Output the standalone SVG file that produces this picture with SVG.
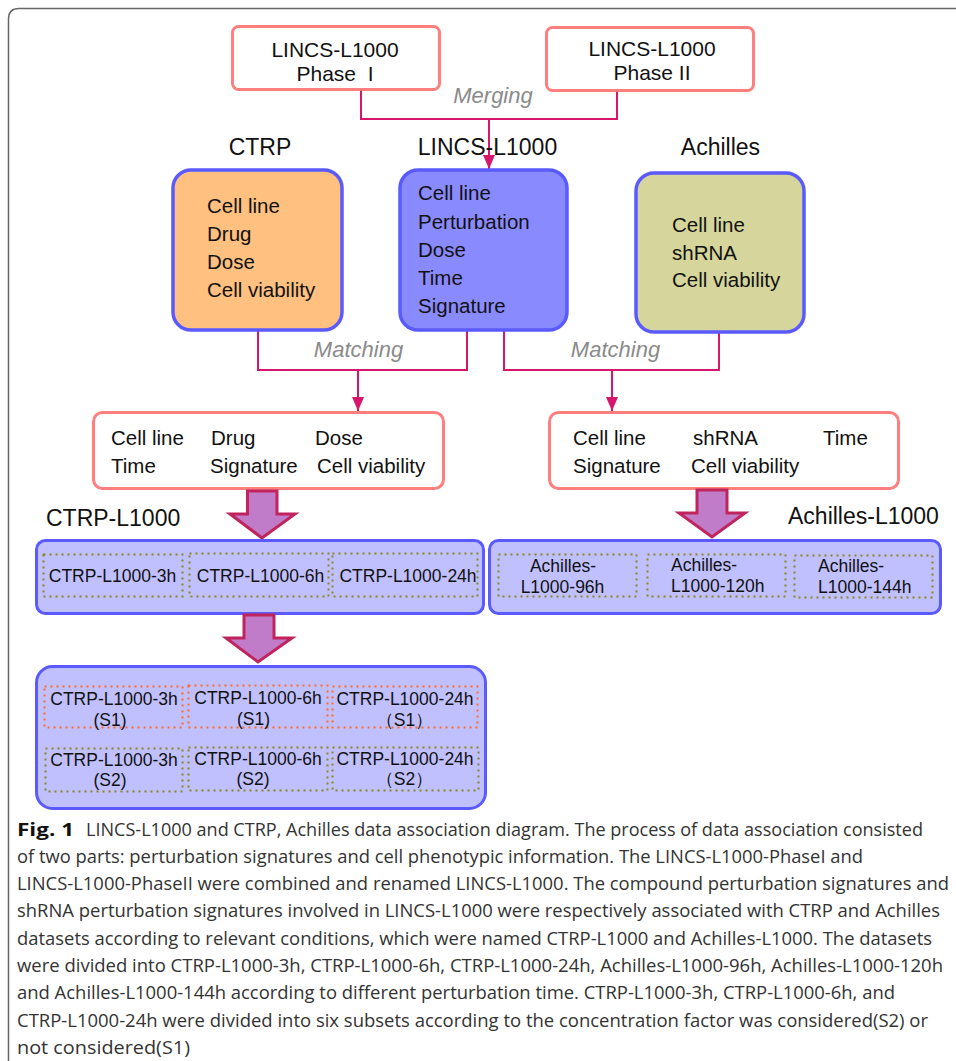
<svg xmlns="http://www.w3.org/2000/svg" width="956" height="1061" viewBox="0 0 956 1061">
<defs>
<marker id="ah" viewBox="0 0 14 12" refX="14" refY="6" markerWidth="14" markerHeight="12" markerUnits="userSpaceOnUse" orient="auto">
<path d="M0,0 L14,6 L0,12 Z" fill="#d6166a"/>
</marker>
<style>
text{font-family:"Liberation Sans",Arial,sans-serif;fill:#111}
.t21{font-size:21px}
.t20{font-size:20.5px}
.t23{font-size:23px}
.t17{font-size:17.5px}
.gi{font-size:22px;font-style:italic;fill:#8a8a8a}
.pink{fill:#fff;stroke:#ff7f7f;stroke-width:3}
.big{stroke:#5a5aff;stroke-width:3.5}
.lav{fill:#c0c0ff;stroke:#5a5aff;stroke-width:3}
.dot{fill:none;stroke:#868622;stroke-width:2;stroke-dasharray:2 4}
.doto{fill:none;stroke:#ff6a20;stroke-width:2;stroke-dasharray:2 4}
.conn{fill:none;stroke:#d6166a;stroke-width:2}
.barrow{fill:#c07cc8;stroke:#c0245c;stroke-width:3;stroke-linejoin:miter}
.cap{font-family:"Open Sans","Noto Sans",sans-serif;font-size:17.5px;fill:#333}
</style>
</defs>
<rect width="956" height="1061" fill="#fff"/>
<path d="M8.5,1061 L8.5,19 Q8.5,8.5 19,8.5 L956,8.5" fill="none" stroke="#666" stroke-width="1.5"/>

<g id="connectors">
<polyline class="conn" points="361,91 361,119 617,119 617,91"/>
<line class="conn" x1="489" y1="119" x2="489" y2="169" marker-end="url(#ah)"/>
<polyline class="conn" points="258,331 258,370 467,370 467,331"/>
<line class="conn" x1="358" y1="370" x2="358" y2="411" marker-end="url(#ah)"/>
<polyline class="conn" points="504,331 504,370 719,370 719,333"/>
<line class="conn" x1="612" y1="370" x2="612" y2="411" marker-end="url(#ah)"/>
<text class="gi" x="493" y="103" text-anchor="middle">Merging</text>
<text class="gi" x="358.5" y="357" text-anchor="middle">Matching</text>
<text class="gi" x="615.5" y="357" text-anchor="middle">Matching</text>
</g>

<g id="phase1">
<rect class="pink" x="232.5" y="26.5" width="207" height="63" rx="6"/>
<text class="t21" x="335" y="57" text-anchor="middle">LINCS-L1000</text>
<text class="t21" x="335" y="81" text-anchor="middle" xml:space="preserve">Phase  I</text>
</g>
<g id="phase2">
<rect class="pink" x="546.5" y="27.5" width="207" height="63" rx="6"/>
<text class="t21" x="652" y="56" text-anchor="middle">LINCS-L1000</text>
<text class="t21" x="652" y="80" text-anchor="middle">Phase II</text>
</g>

<g id="ctrp">
<text class="t23" x="260" y="155" text-anchor="middle">CTRP</text>
<rect class="big" x="173" y="170" width="169" height="160" rx="18" fill="#ffc080"/>
<text class="t20" x="207" y="213">Cell line</text>
<text class="t20" x="207" y="241">Drug</text>
<text class="t20" x="207" y="269">Dose</text>
<text class="t20" x="207" y="297">Cell viability</text>
</g>
<g id="lincs">
<text class="t23" x="487.5" y="155" text-anchor="middle">LINCS-L1000</text>
<rect class="big" x="400" y="170" width="167" height="160" rx="18" fill="#8a8aff"/>
<text class="t20" x="418" y="200">Cell line</text>
<text class="t20" x="418" y="228.5">Perturbation</text>
<text class="t20" x="418" y="257">Dose</text>
<text class="t20" x="418" y="285">Time</text>
<text class="t20" x="418" y="313">Signature</text>
</g>
<g id="achilles">
<text class="t23" x="720.5" y="155" text-anchor="middle">Achilles</text>
<rect class="big" x="636" y="173" width="168" height="159" rx="18" fill="#d6d69c"/>
<text class="t20" x="672" y="232">Cell line</text>
<text class="t20" x="672" y="259.5">shRNA</text>
<text class="t20" x="672" y="287">Cell viability</text>
</g>

<g id="ctrp-match">
<rect class="pink" x="93.5" y="412.5" width="350" height="76" rx="9"/>
<text class="t20" x="111" y="445">Cell line</text>
<text class="t20" x="211" y="445">Drug</text>
<text class="t20" x="315" y="445">Dose</text>
<text class="t20" x="111" y="473">Time</text>
<text class="t20" x="210" y="473">Signature</text>
<text class="t20" x="317" y="473">Cell viability</text>
</g>
<g id="achilles-match">
<rect class="pink" x="549.5" y="412.5" width="349" height="76" rx="9"/>
<text class="t20" x="573" y="445">Cell line</text>
<text class="t20" x="693" y="445">shRNA</text>
<text class="t20" x="823" y="445">Time</text>
<text class="t20" x="573" y="473">Signature</text>
<text class="t20" x="691" y="473">Cell viability</text>
</g>

<g id="arrow1">
<polygon class="barrow" points="247.5,491 277,491 277,514 295,514 262,538 230,514 247.5,514"/>
</g>
<g id="arrow2">
<polygon class="barrow" points="697,490 727,490 727,513 745,513 712,537 679,513 697,513"/>
</g>

<g id="ctrp-l1000">
<text class="t23" x="46" y="526">CTRP-L1000</text>
<rect class="lav" x="36.5" y="540.5" width="447" height="73" rx="9"/>
<rect class="dot" x="43.5" y="554.5" width="139" height="42"/>
<rect class="dot" x="189.5" y="553.5" width="139" height="43"/>
<rect class="dot" x="332.5" y="553.5" width="145" height="43"/>
<text class="t17" x="112.5" y="582" text-anchor="middle">CTRP-L1000-3h</text>
<text class="t17" x="260.5" y="582" text-anchor="middle">CTRP-L1000-6h</text>
<text class="t17" x="408" y="582" text-anchor="middle">CTRP-L1000-24h</text>
</g>
<g id="achilles-l1000">
<text class="t23" x="788" y="524">Achilles-L1000</text>
<rect class="lav" x="489.5" y="540.5" width="451" height="73" rx="9"/>
<rect class="dot" x="498.5" y="554.5" width="138" height="42"/>
<rect class="dot" x="647.5" y="554.5" width="138" height="42"/>
<rect class="dot" x="794.5" y="555.5" width="138" height="42"/>
<text class="t17" x="563" y="572" text-anchor="middle">Achilles-</text>
<text class="t17" x="562.5" y="593" text-anchor="middle">L1000-96h</text>
<text class="t17" x="671" y="571">Achilles-</text>
<text class="t17" x="671" y="592">L1000-120h</text>
<text class="t17" x="818" y="572">Achilles-</text>
<text class="t17" x="818" y="593">L1000-144h</text>
</g>

<g id="arrow3">
<polygon class="barrow" points="244,615 274,615 274,638 292,638 258,662 226,638 244,638"/>
</g>

<g id="subsets">
<rect class="lav" x="36.5" y="666.5" width="449" height="142" rx="16"/>
<rect class="doto" x="44.5" y="686.5" width="138" height="41"/>
<rect class="doto" x="188.5" y="685.5" width="139" height="42"/>
<rect class="doto" x="332.5" y="686.5" width="145" height="41"/>
<rect class="dot" x="45.5" y="748.5" width="137" height="43"/>
<rect class="dot" x="188.5" y="747.5" width="139" height="43"/>
<rect class="dot" x="332.5" y="747.5" width="146" height="43"/>
<text class="t17" x="114" y="705" text-anchor="middle">CTRP-L1000-3h</text>
<text class="t17" x="110" y="726" text-anchor="middle">(S1)</text>
<text class="t17" x="258" y="704" text-anchor="middle">CTRP-L1000-6h</text>
<text class="t17" x="253.5" y="725" text-anchor="middle">(S1)</text>
<text class="t17" x="405" y="705" text-anchor="middle">CTRP-L1000-24h</text>
<text class="t17" x="404.5" y="726" text-anchor="middle">（S1）</text>
<text class="t17" x="114" y="766" text-anchor="middle">CTRP-L1000-3h</text>
<text class="t17" x="110" y="786" text-anchor="middle">(S2)</text>
<text class="t17" x="258" y="765" text-anchor="middle">CTRP-L1000-6h</text>
<text class="t17" x="253" y="785" text-anchor="middle">(S2)</text>
<text class="t17" x="405" y="765" text-anchor="middle">CTRP-L1000-24h</text>
<text class="t17" x="404.5" y="785" text-anchor="middle">（S2）</text>
</g>

<g id="caption">
<text class="cap" x="17" y="835.5" textLength="57" lengthAdjust="spacingAndGlyphs" style="font-weight:bold;fill:#111">Fig. 1</text>
<text class="cap" x="86" y="835.5" textLength="837" lengthAdjust="spacingAndGlyphs">LINCS-L1000 and CTRP, Achilles data association diagram. The process of data association consisted</text>
<text class="cap" x="17" y="862.8" textLength="846" lengthAdjust="spacingAndGlyphs">of two parts: perturbation signatures and cell phenotypic information. The LINCS-L1000-PhaseI and</text>
<text class="cap" x="17" y="890.1" textLength="932" lengthAdjust="spacingAndGlyphs">LINCS-L1000-PhaseII were combined and renamed LINCS-L1000. The compound perturbation signatures and</text>
<text class="cap" x="17" y="917.4" textLength="923" lengthAdjust="spacingAndGlyphs">shRNA perturbation signatures involved in LINCS-L1000 were respectively associated with CTRP and Achilles</text>
<text class="cap" x="17" y="944.7" textLength="915" lengthAdjust="spacingAndGlyphs">datasets according to relevant conditions, which were named CTRP-L1000 and Achilles-L1000. The datasets</text>
<text class="cap" x="17" y="972" textLength="926" lengthAdjust="spacingAndGlyphs">were divided into CTRP-L1000-3h, CTRP-L1000-6h, CTRP-L1000-24h, Achilles-L1000-96h, Achilles-L1000-120h</text>
<text class="cap" x="17" y="999.3" textLength="878" lengthAdjust="spacingAndGlyphs">and Achilles-L1000-144h according to different perturbation time. CTRP-L1000-3h, CTRP-L1000-6h, and</text>
<text class="cap" x="17" y="1026.6" textLength="911" lengthAdjust="spacingAndGlyphs">CTRP-L1000-24h were divided into six subsets according to the concentration factor was considered(S2) or</text>
<text class="cap" x="17" y="1053.9" textLength="173" lengthAdjust="spacingAndGlyphs">not considered(S1)</text>
</g>
</svg>
